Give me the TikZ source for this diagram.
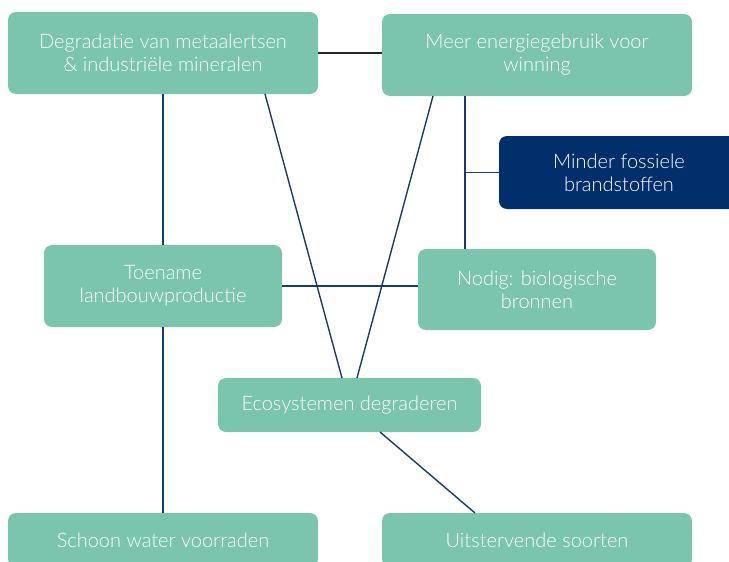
\documentclass[tikz,border=0pt]{standalone}
\usepackage{fontspec}
\setmainfont{Lato Light}
\usepackage{tikz}
\usetikzlibrary{calc}
\definecolor{blokgroen}{HTML}{7BC4AD}
\definecolor{donkerblauw}{HTML}{002F6C}
\definecolor{lijnblauw}{HTML}{163A72}

\begin{document}
\begin{tikzpicture}[
    x = 0.5pt, y = -0.5pt,
    box/.style = {fill=blokgroen, rounded corners=4pt, text=white,
        align=center, font=\fontsize{10}{11.5}\selectfont,
        inner sep=0pt, outer sep=0mm},
    donker/.style = {box, fill=donkerblauw},
    lijn/.style = {draw=lijnblauw, line width=0.7pt}
  ]
  \useasboundingbox (0,0) rectangle (729,562);
  \clip (0,0) rectangle (729,562);

  \node[box, minimum width=155pt, minimum height=41pt] (metaal) at (163,53)
    {Degradatie van metaalertsen\\ \& industriële mineralen};
  \node[box, minimum width=155pt, minimum height=41pt] (energie) at (537,55)
    {Meer energiegebruik voor\\ winning};
  \node[donker, minimum width=120pt, minimum height=36.5pt] (fossiel) at (619,172.5)
    {Minder fossiele\\ brandstoffen};
  \node[box, minimum width=119pt, minimum height=41pt] (landbouw) at (163,286)
    {Toename\\ landbouwproductie};
  \node[box, minimum width=119pt, minimum height=40.5pt] (bronnen) at (537,289.5)
    {Nodig: biologische\\ bronnen};
  \node[box, minimum width=131.5pt, minimum height=27pt] (eco) at (349.5,405)
    {Ecosystemen degraderen};
  \node[box, minimum width=155pt, minimum height=27pt] (water) at (163,540)
    {Schoon water voorraden};
  \node[box, minimum width=155pt, minimum height=27pt] (soorten) at (537,540)
    {Uitstervende soorten};

  % verbindingen
  \draw[line width=0.7pt, draw=black!85] (metaal.east) -- (metaal.east -| energie.west);
  \draw[lijn] (metaal.south) -- (landbouw.north);
  \draw[lijn] (landbouw.south) -- (water.north);
  \draw[lijn] ($(metaal.south)+(102,0)$) -- ($(eco.north)+(-7.5,0)$);
  \draw[lijn] ($(energie.south)+(-104,0)$) -- ($(eco.north)+(7.5,0)$);
  \coordinate (tak) at ($(energie.south)+(-72,0)$);
  \draw[lijn] (tak) -- ($(bronnen.north)+(-72,0)$);
  \draw[lijn] (fossiel.west) -- (fossiel.west -| tak);
  \draw[lijn] (landbouw.east) -- (landbouw.east -| bronnen.west);
  \draw[lijn] ($(eco.south)+(30.5,0)$) -- ($(soorten.north)+(-62,0)$);
\end{tikzpicture}
\end{document}
